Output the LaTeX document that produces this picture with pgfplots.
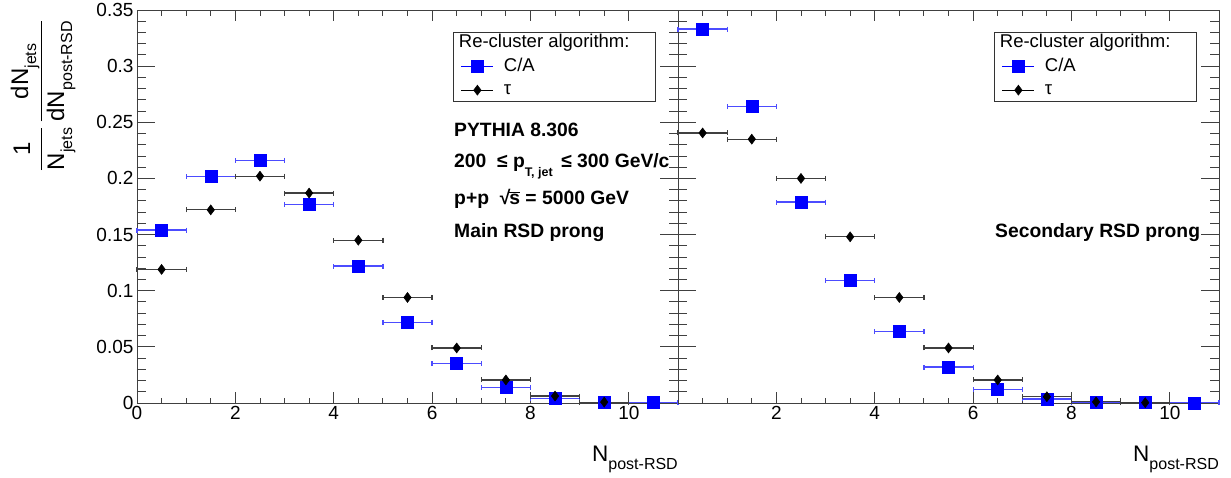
\documentclass[border=0pt]{standalone}
\usepackage{pgfplots}
\usepackage{pgfplotstable}
\pgfplotsset{compat=1.18}
\usepackage{fontspec}
\setmainfont{Liberation Sans}
\newcommand\fs[1]{\fontsize{#1}{#1}\selectfont}
\newcommand\lsub[4]{#1\raisebox{-#3}{\fs{#4}#2}}

\pgfplotstableread{
x ex y
0.5 0.5 0.154
1.5 0.5 0.202
2.5 0.5 0.216
3.5 0.5 0.177
4.5 0.5 0.122
5.5 0.5 0.072
6.5 0.5 0.035
7.5 0.5 0.014
8.5 0.5 0.0042
9.5 0.5 0.0008
10.5 0.5 0.0003
}\leftca
\pgfplotstableread{
x ex y
0.5 0.5 0.119
1.5 0.5 0.172
2.5 0.5 0.202
3.5 0.5 0.187
4.5 0.5 0.145
5.5 0.5 0.094
6.5 0.5 0.049
7.5 0.5 0.0205
8.5 0.5 0.0062
9.5 0.5 0.0008
}\lefttau
\pgfplotstableread{
x ex y
0.5 0.5 0.333
1.5 0.5 0.264
2.5 0.5 0.179
3.5 0.5 0.109
4.5 0.5 0.0635
5.5 0.5 0.032
6.5 0.5 0.012
7.5 0.5 0.0036
8.5 0.5 0.0006
9.5 0.5 0.0003
10.5 0.5 0.0001
}\rightca
\pgfplotstableread{
x ex y
0.5 0.5 0.2405
1.5 0.5 0.235
2.5 0.5 0.200
3.5 0.5 0.148
4.5 0.5 0.094
5.5 0.5 0.049
6.5 0.5 0.0205
7.5 0.5 0.0056
8.5 0.5 0.001
9.5 0.5 0.0003
}\righttau

\pgfplotsset{
  rootstyle/.style={
    scale only axis, width=541pt, height=393pt,
    xmin=0, xmax=11, ymin=0, ymax=0.35,
    clip=false,
    xtick={0,2,4,6,8,10},
    ytick={0,0.05,0.1,0.15,0.2,0.25,0.3,0.35},
    minor x tick num=3, minor y tick num=4,
    tick align=inside, tick pos=both,
    axis line style={black!75, line width=0.9pt},
    every tick/.style={black!75, line width=0.9pt},
    xtick style={/pgfplots/major tick length=11pt, /pgfplots/minor tick length=5.5pt},
    minor x tick style={/pgfplots/minor tick length=5.5pt},
    ytick style={/pgfplots/major tick length=18pt, /pgfplots/minor tick length=9pt},
    minor y tick style={/pgfplots/minor tick length=9pt},
    tick label style={font=\fs{19}},
    legend style={at={(rel axis cs:0.5841,0.944)}, anchor=north west,
      draw=black!80, line width=0.8pt, fill=white,
      inner xsep=7.5pt, inner ysep=1pt, font=\fs{18.5},
      row sep=4pt, column sep=9pt,
      nodes={inner sep=1pt, text height=13.5pt, text depth=4pt}},
    legend cell align=left,
    legend image code/.code={
      \draw[#1, sharp plot, line width=1pt, mark repeat=2, mark phase=2]
        plot coordinates {(0pt,0pt) (16pt,0pt) (32pt,0pt)};
    },
  },
  caplot/.style={only marks, color=blue, mark=square*, mark size=6pt,
    mark options={fill=blue, draw=blue, line width=0.5pt},
    error bars/.cd, x dir=both, x explicit, error mark=|,
    error bar style={blue!70!white, line width=1.2pt},
    error mark options={blue!70!white, line width=1.2pt, mark size=2.5pt}},
  tauplot/.style={only marks, color=black, mark=diamond*, mark size=5pt,
    mark options={fill=black, draw=black, line width=0.5pt},
    error bars/.cd, x dir=both, x explicit, error mark=|,
    error bar style={black!75, line width=1.2pt},
    error mark options={black!75, line width=1.2pt, mark size=2.5pt}},
}

\begin{document}
\begin{tikzpicture}
\useasboundingbox (0,0) rectangle (1231pt,477pt);
\begin{axis}[rootstyle, at={(137pt,74pt)}, anchor=south west,
  xticklabels={0,2,4,6,8,10},
  yticklabels={0,0.05,0.1,0.15,0.2,0.25,0.3,0.35},
  xlabel={\fs{22.5}\lsub{N}{post-RSD}{8pt}{16}},
  xlabel style={at={(rel axis cs:1,0)}, anchor=base east, yshift=-58pt, inner sep=0pt},
  ylabel={\fs{24}$\displaystyle\frac{\hbox{1}}{\hbox{\lsub{N}{jets}{8pt}{16}}}\,\frac{\hbox{d\lsub{N}{jets}{8pt}{16}}}{\hbox{d\lsub{N}{post-RSD}{8pt}{16}}}$},
  ylabel style={at={(rel axis cs:-0.1738,0.9746)}, anchor=east, inner sep=0pt},
]
\addlegendimage{empty legend}
\addlegendentry{\hspace*{-45pt}\makebox[188pt][l]{Re-cluster algorithm:}}
\addplot[caplot] table[x=x, y=y, x error=ex] {\leftca};
\addlegendentry{C/A}
\addplot[tauplot] table[x=x, y=y, x error=ex] {\lefttau};
\addlegendentry{τ}
\node[anchor=base west, font=\bfseries\fs{19.3}, inner sep=0pt] at (rel axis cs:0.586,0.679) {PYTHIA 8.306};
\node[anchor=base west, font=\bfseries\fs{19.3}, inner sep=0pt] at (rel axis cs:0.586,0.6005) {200 \ ≤ \lsub{p}{T, jet}{9pt}{12.5}\, ≤ 300 GeV/c};
\node[anchor=base west, font=\bfseries\fs{19.3}, inner sep=0pt] at (rel axis cs:0.586,0.506) {p+p \ √\kern-1pt$\overline{\hbox{s}}$ = 5000 GeV};
\node[anchor=base west, font=\bfseries\fs{19.3}, inner sep=0pt] at (rel axis cs:0.586,0.422) {Main RSD prong};
\end{axis}
\begin{axis}[rootstyle, at={(678pt,74pt)}, anchor=south west,
  xticklabels={,2,4,6,8,10},
  yticklabels={},
  xlabel={\fs{22.5}\lsub{N}{post-RSD}{8pt}{16}},
  xlabel style={at={(rel axis cs:1,0)}, anchor=base east, yshift=-58pt, inner sep=0pt},
]
\addlegendimage{empty legend}
\addlegendentry{\hspace*{-45pt}\makebox[188pt][l]{Re-cluster algorithm:}}
\addplot[caplot] table[x=x, y=y, x error=ex] {\rightca};
\addlegendentry{C/A}
\addplot[tauplot] table[x=x, y=y, x error=ex] {\righttau};
\addlegendentry{τ}
\node[anchor=base west, font=\bfseries\fs{19.3}, inner sep=0pt] at (rel axis cs:0.586,0.422) {Secondary RSD prong};
\end{axis}
\end{tikzpicture}
\end{document}
